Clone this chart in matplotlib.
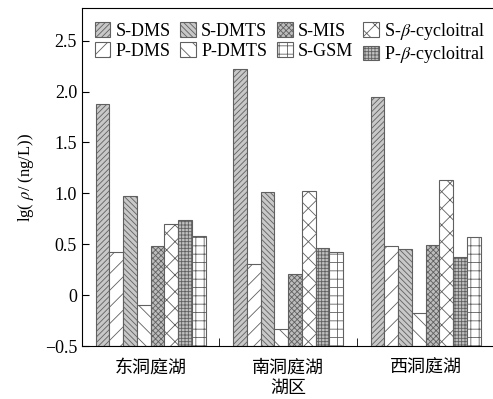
import matplotlib
matplotlib.use("Agg")
import numpy as np
import matplotlib.pyplot as plt

plt.rcParams['font.family'] = ['Liberation Serif', 'Noto Sans CJK SC', 'DejaVu Sans']
plt.rcParams['mathtext.fontset'] = 'stix'
plt.rcParams['hatch.linewidth'] = 0.6

lakes = ['东洞庭湖', '南洞庭湖', '西洞庭湖']
series = ['S-DMS', 'P-DMS', 'S-DMTS', 'P-DMTS', 'S-MIS',
          r'S-$\beta$-cycloitral', r'P-$\beta$-cycloitral', 'S-GSM']
values = {
    'S-DMS':  [1.88, 2.22, 1.95],
    'P-DMS':  [0.42, 0.31, 0.48],
    'S-DMTS': [0.97, 1.01, 0.45],
    'P-DMTS': [-0.10, -0.33, -0.18],
    'S-MIS':  [0.48, 0.21, 0.49],
    r'S-$\beta$-cycloitral': [0.70, 1.02, 1.13],
    r'P-$\beta$-cycloitral': [0.74, 0.46, 0.37],
    'S-GSM':  [0.58, 0.42, 0.57],
}
styles = {
    'S-DMS':  ('#c8c8c8', '//////'),
    'P-DMS':  ('white', '//'),
    'S-DMTS': ('#c8c8c8', '\\\\\\\\\\\\'),
    'P-DMTS': ('white', '\\\\'),
    'S-MIS':  ('#bdbdbd', 'xxxxxx'),
    r'S-$\beta$-cycloitral': ('white', 'xx'),
    r'P-$\beta$-cycloitral': ('#c0c0c0', '+++++'),
    'S-GSM':  ('white', '++'),
}
legend_order = ['S-DMS', 'P-DMS', 'S-DMTS', 'P-DMTS', 'S-MIS', 'S-GSM',
                r'S-$\beta$-cycloitral', r'P-$\beta$-cycloitral']

fig = plt.figure(figsize=(4.93, 3.99), dpi=100)
ax = fig.add_axes([0.1663, 0.1328, 0.8367, 0.847])

base = -0.5
w = 0.1
x = np.arange(len(lakes))
handles = {}
for i, s in enumerate(series):
    fc, hatch = styles[s]
    vals = np.array(values[s])
    b = ax.bar(x - 0.35 + i * w, vals - base, width=w, bottom=base,
               facecolor=fc, edgecolor='#606060', hatch=hatch, linewidth=0.8)
    handles[s] = b

ax.set_xlim(-0.5, 2.5)
ax.set_ylim(-0.5, 2.82)
ax.set_yticks([-0.5, 0, 0.5, 1.0, 1.5, 2.0, 2.5])
ax.set_yticklabels(['\u22120.5', '0', '0.5', '1.0', '1.5', '2.0', '2.5'])
ax.set_xticks(x)
ax.set_xticklabels(lakes, family=['Noto Sans CJK SC'], fontsize=13)
ax.set_xticks([0.5, 1.5], minor=True)
ax.tick_params(axis='x', which='major', length=0, pad=9)
ax.tick_params(axis='x', which='minor', direction='in', length=6)
ax.tick_params(axis='y', direction='in', length=5, labelsize=13)
ax.set_xlabel('湖区', family=['Noto Sans CJK SC'], fontsize=13, labelpad=2)
ax.set_ylabel(r'lg( $\rho$/ (ng/L))', fontsize=12, labelpad=6)

ax.legend([handles[s] for s in legend_order], legend_order, ncol=4,
          loc='upper left', bbox_to_anchor=(0.0, 1.0), frameon=False,
          fontsize=13, handlelength=0.85, handleheight=0.85, handletextpad=0.3,
          columnspacing=0.55, labelspacing=0.15, borderaxespad=0.3)

fig.savefig('out.png', dpi=100)
